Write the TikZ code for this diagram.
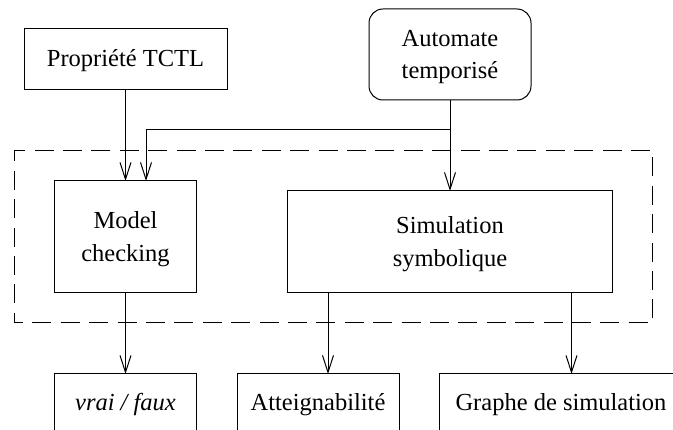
\documentclass[tikz,border=0pt]{standalone}
\usepackage{fontspec}
\setmainfont{Liberation Serif}
\usetikzlibrary{arrows.meta,positioning}
\newcommand{\lowertext}[1]{\rule{0pt}{#1}}
\tikzset{
  box/.style={draw=black,line width=1pt,inner sep=0pt,outer sep=0pt,align=center,
    font=\fontsize{24.5}{32.5}\selectfont,text=black},
  roundbox/.style={box,rounded corners=14pt},
  flow/.style={draw=black,line width=1pt,-{Straight Barb[length=17pt,width=11pt,line width=1pt]}},
  zone/.style={draw=black,line width=1pt,dash pattern=on 19pt off 9.4pt,dash phase=8pt}
}
\begin{document}
\begin{tikzpicture}[x=1pt,y=-1pt]
\useasboundingbox (0,0) rectangle (673,430);
\clip (0,0) rectangle (673,430);
\draw[zone] (14,150.5) -- (14,323) -- (652.5,323) -- (652.5,150.5) -- cycle;
\node[box,minimum width=203pt,minimum height=61pt] (prop) at (125.5,59.5) {\lowertext{18.5pt}Propriété TCTL};
\node[roundbox,minimum width=162pt,minimum height=91pt] (auto) at (450,54.5) {\lowertext{21pt}Automate\\temporisé};
\node[box,minimum width=141.5pt,minimum height=112pt] (model) at (125.5,237) {\lowertext{21pt}Model\\checking};
\node[box,minimum width=324.5pt,minimum height=102pt] (simu) at (450,242) {\lowertext{21pt}Simulation\\symbolique};
\node[box,minimum width=141.5pt,minimum height=58pt] (vrai) at (125.5,403) {\lowertext{21pt}\itshape vrai / faux};
\node[box,minimum width=162pt,minimum height=58pt] (atte) at (318,403) {\lowertext{21pt}Atteignabilité};
\node[box,minimum width=243pt,minimum height=58pt] (graphe) at (561,403) {\lowertext{21pt}Graphe de simulation};
\coordinate (branch) at (auto.south |- 0,130);
\coordinate (modelin) at (146,181);
\coordinate (atteout) at (328,293);
\coordinate (atteend) at (328,374);
\coordinate (grapheout) at (571.5,293);
\coordinate (grapheend) at (571.5,374);
\draw[flow] (prop.south) -- (model.north);
\draw[flow] (branch) -| (modelin);
\draw[flow] (auto.south) -- (simu.north);
\draw[flow] (model.south) -- (vrai.north);
\draw[flow] (atteout) -- (atteend);
\draw[flow] (grapheout) -- (grapheend);
\end{tikzpicture}
\end{document}
